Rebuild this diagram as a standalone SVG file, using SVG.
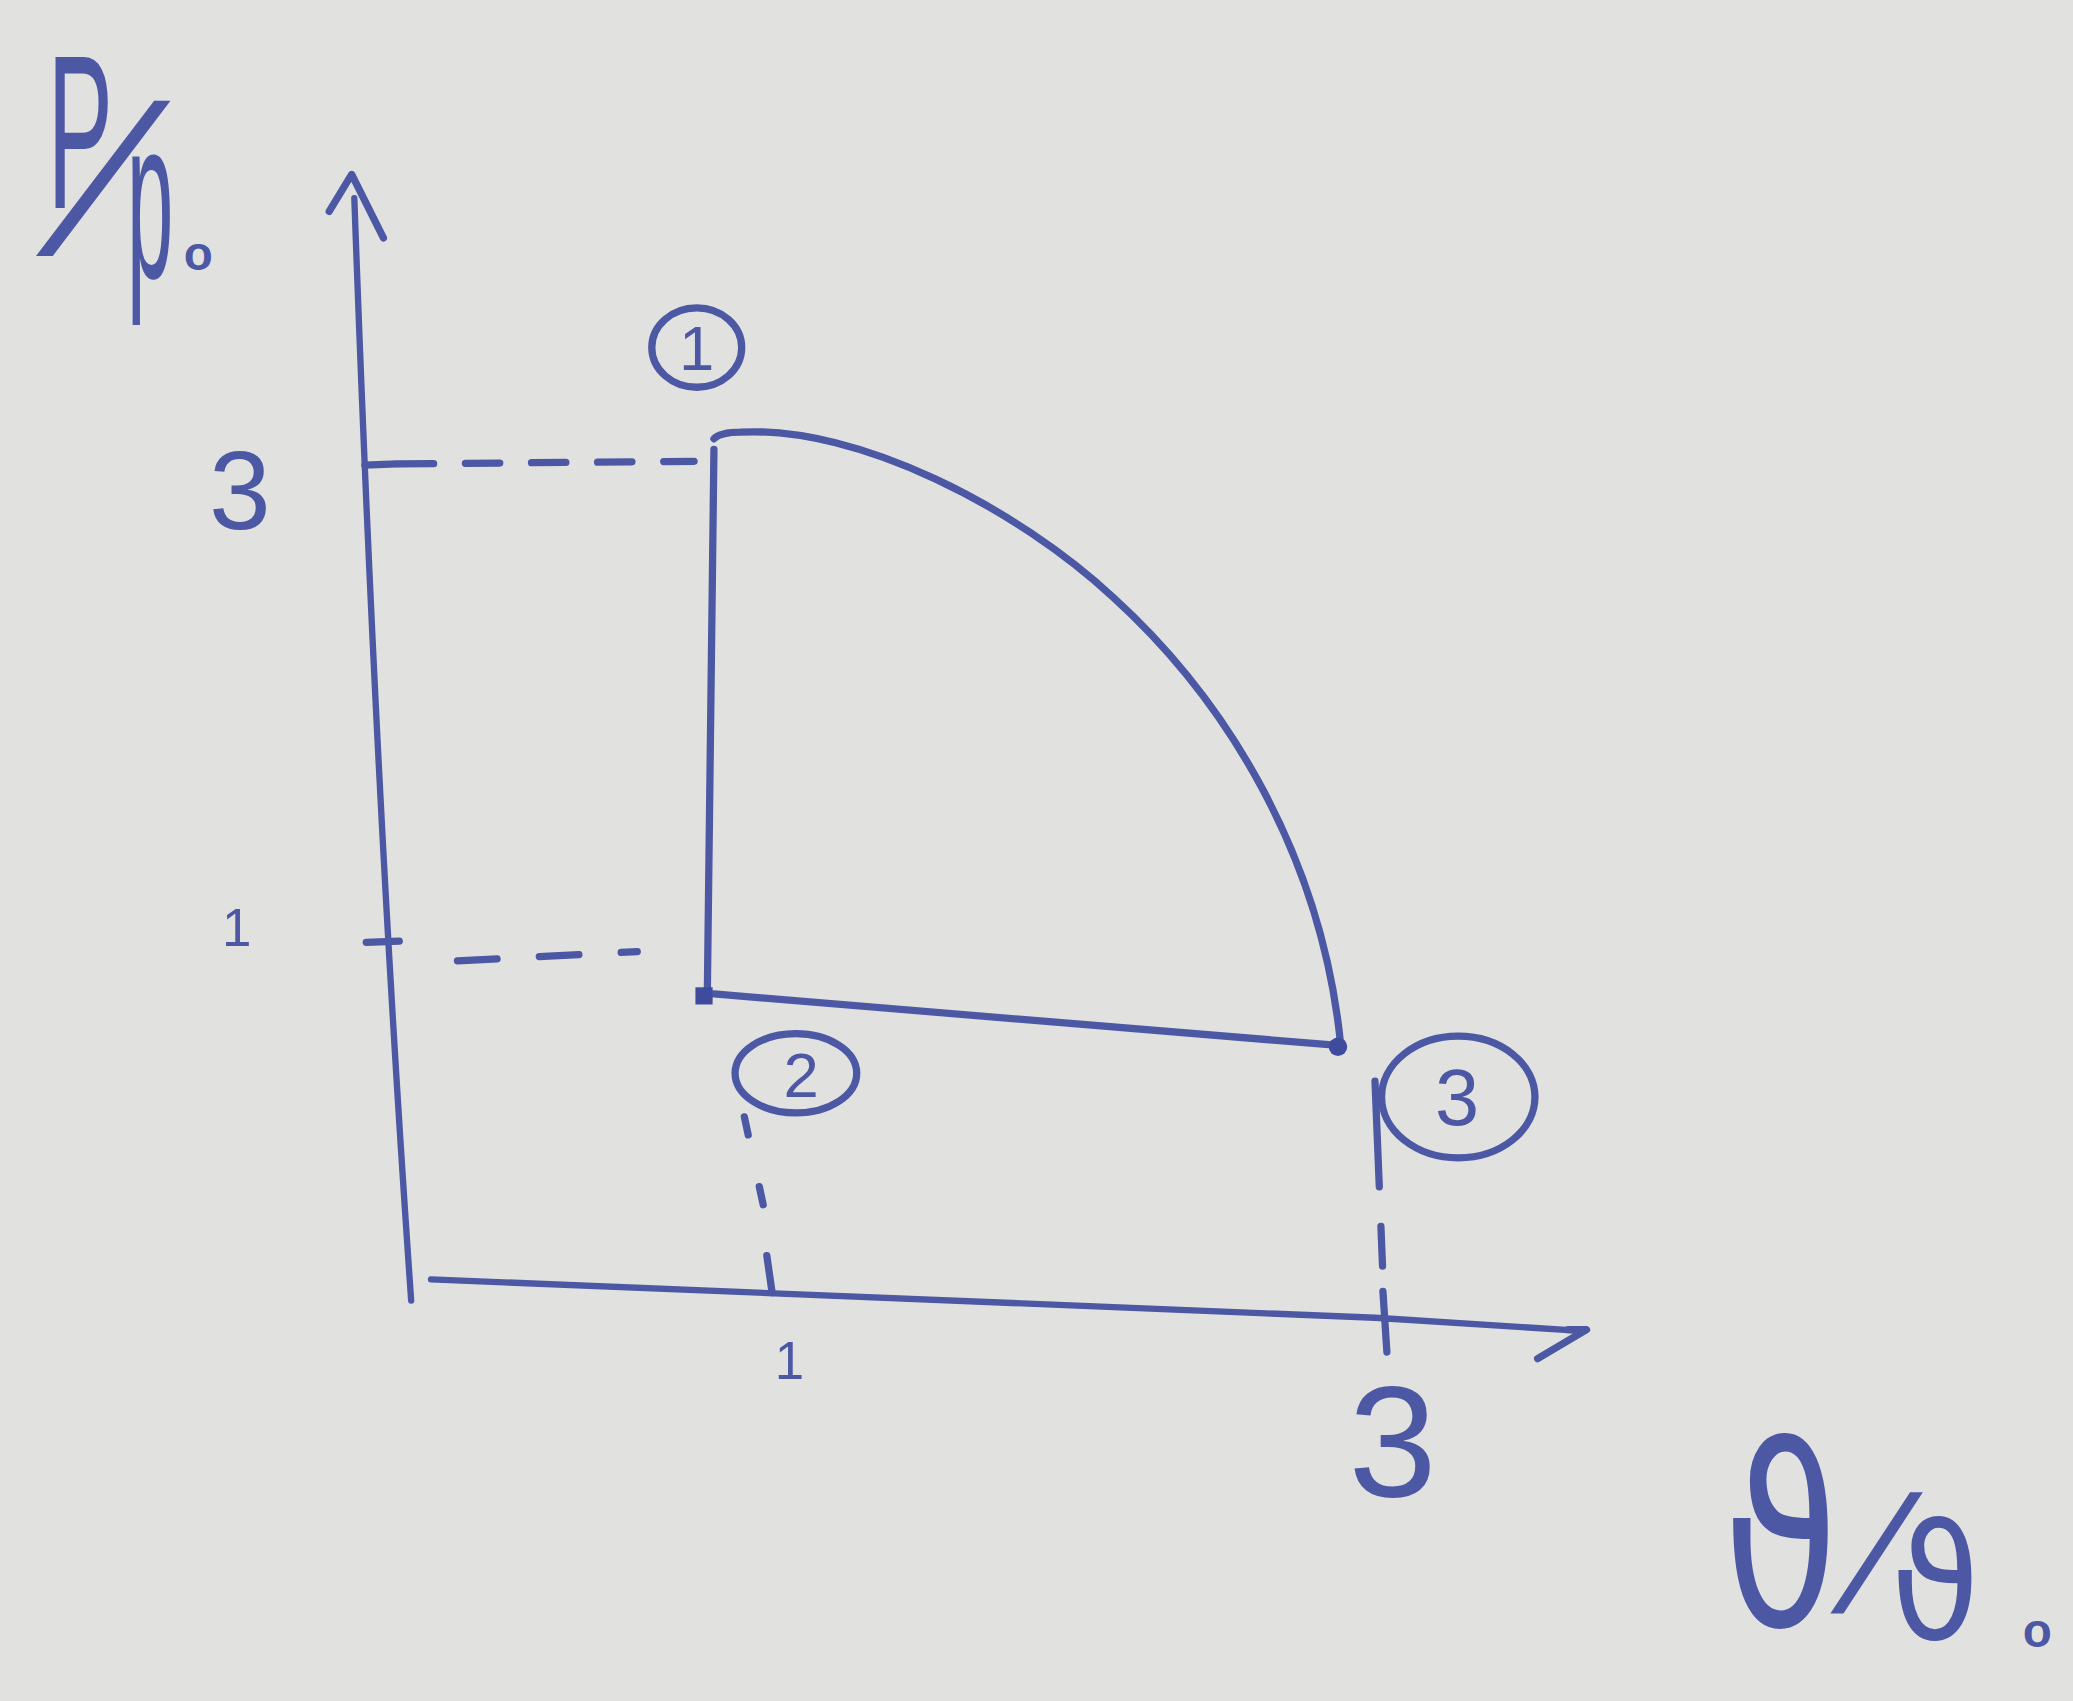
<svg xmlns="http://www.w3.org/2000/svg" width="2073" height="1701" viewBox="0 0 2073 1701">
<style>
.ink{fill:none;stroke:#4c58a4;stroke-width:5.5;stroke-linecap:round;stroke-linejoin:round}
.thin{stroke-width:4.8}
.dash{fill:none;stroke:#4c58a4;stroke-width:5.5;stroke-linecap:round}
.dot{fill:#3f4b9c}
.t{fill:#4c58a4;font-family:"Liberation Sans","DejaVu Sans",sans-serif}
.g{fill:#4c58a4;font-family:"DejaVu Sans","Noto Sans",sans-serif}
</style>
<rect width="2073" height="1701" fill="#e1e2e0"/>
<g transform="scale(1.3221,1.3217)">
  <g id="axes">
    <path class="ink thin" d="M268,150 Q284,600 311,984"/>
    <path class="ink" d="M249,160 L266,132 L290,180"/>
    <path class="ink thin" d="M326,968 L1040,997 L1196,1007"/>
    <path class="ink" d="M1163,1028 L1200,1006 L1186,1006"/>
    <path class="ink" d="M276,352 L300,351"/>
    <path class="ink" d="M277,713 L302,712"/>
    <path class="ink" d="M580,950 L584,978"/>
    <path class="ink" d="M1046,977 L1049,1023"/>
  </g>
  <g id="ticks-labels">
    <text class="t" x="158" y="400" font-size="84">3</text>
    <text class="t" x="168" y="716" font-size="40">1</text>
    <text class="t" x="586" y="1043" font-size="40">1</text>
    <text class="t" x="1020" y="1132" font-size="120">3</text>
  </g>
  <g id="y-label">
    <text class="t" transform="translate(36,157) scale(0.45,1)" font-size="165">P</text>
    <text class="t" transform="translate(28,192) skewX(-26)" font-size="160">/</text>
    <text class="t" transform="translate(96,210) scale(0.42,1.15)" font-size="150">p</text>
    <text class="t" x="139" y="204" font-size="36" font-weight="bold">o</text>
  </g>
  <g id="x-label">
    <text class="g" transform="translate(1303,1230) scale(0.75,1)" font-size="190">ϑ</text>
    <text class="t" transform="translate(1385,1220) skewX(-21)" font-size="125">/</text>
    <text class="g" transform="translate(1430,1240) scale(0.9,1)" font-size="122">ϑ</text>
    <text class="t" x="1530" y="1246" font-size="36" font-weight="bold">o</text>
  </g>
  <g id="guides">
    <path class="dash" d="M302,351 L525,349" stroke-dasharray="26 24"/>
    <path class="dash" d="M346,727 L482,720" stroke-dasharray="30 32"/>
    <path class="dash" d="M563,845 L578,915" stroke-dasharray="14 40"/>
    <path class="dash" d="M1040,818 L1046,965" stroke-dasharray="80 30 30 20"/>
  </g>
  <g id="connectors">
    <path class="ink" d="M540,340 L535,752"/>
    <path class="ink" d="M540,752 L1012,791"/>
    <path class="ink" d="M540,332 Q545,327 560,327 C650,322 770,385 842,452 C930,532 1000,650 1014,790"/>
  </g>
  <g id="node-1">
    <ellipse class="ink" cx="527" cy="263" rx="34" ry="30"/>
    <text class="t" x="527" y="280" font-size="48" text-anchor="middle">1</text>
  </g>
  <g id="node-2">
    <rect class="dot" x="526" y="747" width="13" height="13"/>
    <ellipse class="ink" cx="602" cy="812" rx="46" ry="30"/>
    <text class="t" x="606" y="830" font-size="48" text-anchor="middle">2</text>
  </g>
  <g id="node-3">
    <circle class="dot" cx="1012" cy="792" r="7"/>
    <ellipse class="ink" cx="1103" cy="830" rx="58" ry="46"/>
    <text class="t" x="1102" y="851" font-size="60" text-anchor="middle">3</text>
  </g>
</g>
</svg>
